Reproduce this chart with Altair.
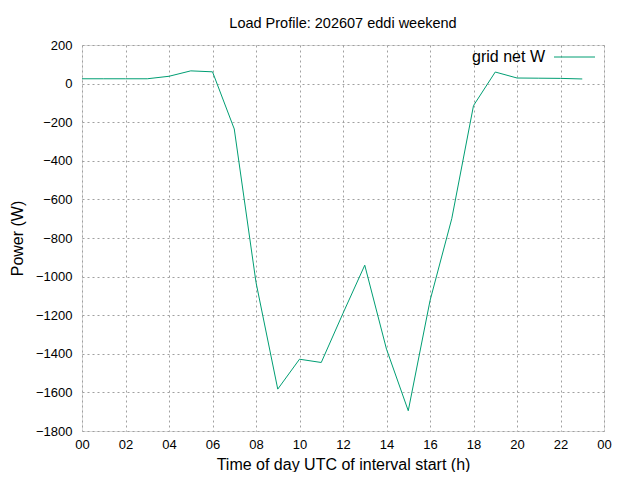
import altair as alt
import pandas as pd

hours = list(range(24))
grid_net_w = [25, 25, 25, 25, 38, 66, 61, -235, -1030, -1583, -1428, -1445,
              -1190, -941, -1376, -1695, -1125, -700, -114, 60, 29, 28, 27, 24]
x_ticks = list(range(0, 25, 2))
y_ticks = list(range(-1800, 201, 200))

df = pd.DataFrame({"hour": hours, "power": grid_net_w})
FONT = "Liberation Sans"
W, H = 522, 386

base = alt.Chart(df)

line = base.mark_line(color="#009e73", strokeWidth=1, clip=True).encode(
    x=alt.X("hour:Q", scale=alt.Scale(domain=[0, 24], nice=False),
            axis=alt.Axis(values=x_ticks,
                          labelExpr="datum.value == 24 ? '00' : (datum.value < 10 ? '0' + datum.value : '' + datum.value)",
                          title="Time of day UTC of interval start (h)",
                          grid=True, gridDash=[2, 3], gridColor="#a0a0a0", gridOpacity=1,
                          tickSize=0, labelPadding=7, domain=False, labelFlush=False,
                          labelFont=FONT, labelFontSize=13, labelColor="black",
                          titleFont=FONT, titleFontSize=16, titleFontWeight="normal",
                          titleColor="black", titlePadding=5)),
    y=alt.Y("power:Q", scale=alt.Scale(domain=[-1800, 200], nice=False),
            axis=alt.Axis(values=y_ticks, format="d",
                          title="Power (W)",
                          grid=True, gridDash=[2, 3], gridColor="#a0a0a0", gridOpacity=1,
                          tickSize=0, labelPadding=10, domain=False, labelFlush=False,
                          labelFont=FONT, labelFontSize=13, labelColor="black",
                          titleFont=FONT, titleFontSize=16, titleFontWeight="normal",
                          titleColor="black", titlePadding=10)),
)

legend_text = alt.Chart(pd.DataFrame({"t": ["grid net W"]})).mark_text(
    align="right", baseline="middle", font=FONT, fontSize=16, color="black"
).encode(x=alt.value(463), y=alt.value(12), text="t:N")

legend_line = alt.Chart(pd.DataFrame({"t": ["grid net W"]})).mark_rule(
    color="#009e73", strokeWidth=1
).encode(x=alt.value(472), x2=alt.value(513), y=alt.value(12))

chart = alt.layer(line, legend_text, legend_line).properties(
    width=W, height=H,
    title=alt.TitleParams("Load Profile: 202607 eddi weekend", font=FONT,
                          fontSize=14.5, fontWeight="normal", color="black",
                          anchor="middle", offset=8),
    autosize=alt.AutoSizeParams(type="none"),
    padding={"left": 74, "top": 37, "right": 28, "bottom": 41},
).configure_view(stroke="black", strokeWidth=1).configure(background="white")

chart.save("out.html", embed_options={"renderer": "svg", "actions": False})
